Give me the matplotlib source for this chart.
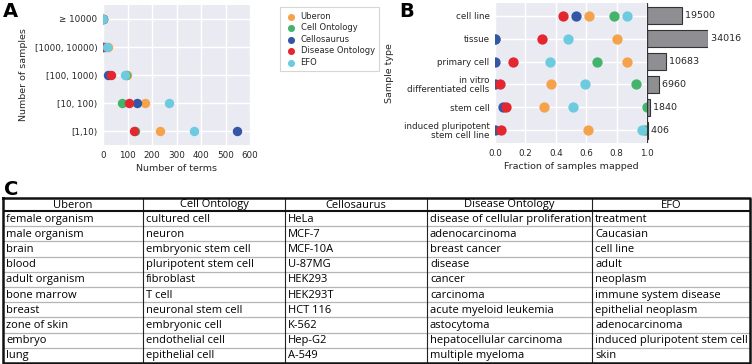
import matplotlib
matplotlib.use("Agg")
import matplotlib.pyplot as plt
import numpy as np

# ---- data ----
sources = ["Uberon", "Cell Ontology", "Cellosaurus", "Disease Ontology", "EFO"]
colors = ["#f5a34b", "#44b46c", "#3556a5", "#e4262e", "#6dcbdf"]

bins = ["\u2265 10000", "[1000, 10000)", "[100, 1000)", "[10, 100)", "[1,10)"]
# number of terms per bin, one list per source (same order as bins)
terms_uberon = [1, 22, 97, 172, 232]
terms_cl = [1, 10, 92, 78, 131]
terms_cellosaurus = [0, 0, 20, 140, 545]
terms_do = [0, 0, 31, 108, 128]
terms_efo = [2, 15, 88, 268, 372]
terms = [terms_uberon, terms_cl, terms_cellosaurus, terms_do, terms_efo]

sample_types = ["cell line", "tissue", "primary cell", "in vitro\ndifferentiated cells",
                "stem cell", "induced pluripotent\nstem cell line"]
frac_uberon = [0.62, 0.80, 0.87, 0.37, 0.32, 0.61]
frac_cl = [0.78, 0.00, 0.67, 0.93, 1.00, 0.99]
frac_cellosaurus = [0.53, 0.00, 0.00, 0.00, 0.05, 0.00]
frac_do = [0.45, 0.31, 0.12, 0.03, 0.07, 0.04]
frac_efo = [0.87, 0.48, 0.36, 0.59, 0.51, 0.97]
fracs = [frac_uberon, frac_cl, frac_cellosaurus, frac_do, frac_efo]
sample_counts = [19500, 34016, 10683, 6960, 1840, 406]

table_header = ["Uberon", "Cell Ontology", "Cellosaurus", "Disease Ontology", "EFO"]
col_uberon = ["female organism", "male organism", "brain", "blood", "adult organism",
              "bone marrow", "breast", "zone of skin", "embryo", "lung"]
col_cl = ["cultured cell", "neuron", "embryonic stem cell", "pluripotent stem cell", "fibroblast",
          "T cell", "neuronal stem cell", "embryonic cell", "endothelial cell", "epithelial cell"]
col_cellosaurus = ["HeLa", "MCF-7", "MCF-10A", "U-87MG", "HEK293",
                   "HEK293T", "HCT 116", "K-562", "Hep-G2", "A-549"]
col_do = ["disease of cellular proliferation", "adenocarcinoma", "breast cancer", "disease", "cancer",
          "carcinoma", "acute myeloid leukemia", "astocytoma", "hepatocellular carcinoma", "multiple myeloma"]
col_efo = ["treatment", "Caucasian", "cell line", "adult", "neoplasm",
           "immune system disease", "epithelial neoplasm", "adenocarcinoma",
           "induced pluripotent stem cell", "skin"]
table_cols = [col_uberon, col_cl, col_cellosaurus, col_do, col_efo]
col_widths = [140, 142, 142, 165, 158]

# ---- style ----
plt.rcParams['font.family'] = ['DejaVu Sans']
txt = "#262626"
bg = "#eaeaf2"
W, H = 752, 364


def fig_rect(x0, y0, x1, y1):
    return [x0 / W, 1 - y1 / H, (x1 - x0) / W, (y1 - y0) / H]


def seaborn_ax(ax, size):
    ax.set_facecolor(bg)
    for s in ax.spines.values():
        s.set_visible(False)
    ax.grid(True, color="white", lw=1.0)
    ax.set_axisbelow(True)
    ax.tick_params(length=0, labelsize=size, colors=txt, pad=4)


fig = plt.figure(figsize=(W / 100, H / 100), dpi=100)

# ---- panel A ----
axA = fig.add_axes(fig_rect(103, 5, 250, 145))
seaborn_ax(axA, 6.3)
ya = np.arange(len(bins))
for name, c, vals in zip(sources, colors, terms):
    axA.scatter(vals, ya, s=46, color=c, label=name, zorder=3, linewidths=0)
axA.set_xlim(0, 600)
axA.set_ylim(len(bins) - 0.5, -0.5)
axA.set_xticks(range(0, 601, 100))
axA.set_yticks(ya)
axA.set_yticklabels(bins)
axA.set_xlabel("Number of terms", fontsize=6.8, color=txt, labelpad=3)
axA.set_ylabel("Number of samples", fontsize=6.8, color=txt, labelpad=5)

handles, labels = axA.get_legend_handles_labels()
leg = fig.legend(handles, labels, loc="upper left", bbox_to_anchor=(276 / W, 1 - 3 / H),
                 fontsize=6, frameon=True, fancybox=False, edgecolor="#cccccc",
                 handletextpad=0.4, borderpad=0.55, labelspacing=0.3, markerscale=0.75,
                 handlelength=1.5)
leg.get_frame().set_linewidth(0.8)
for t in leg.get_texts():
    t.set_color(txt)

# ---- panel B ----
axB = fig.add_axes(fig_rect(495, 3, 647, 143))
seaborn_ax(axB, 6.3)
yb = np.arange(len(sample_types))
for name, c, vals in zip(sources, colors, fracs):
    axB.scatter(vals, yb, s=55, color=c, zorder=3, linewidths=0)
axB.set_xlim(0, 1)
axB.set_ylim(len(sample_types) - 0.45, -0.55)
axB.set_xticks(np.arange(0, 1.01, 0.2))
axB.set_xticklabels([f"{v:.1f}" for v in np.arange(0, 1.01, 0.2)])
axB.set_yticks(yb)
axB.set_yticklabels(sample_types, linespacing=0.95)
axB.set_xlabel("Fraction of samples mapped", fontsize=6.8, color=txt, labelpad=3)
axB.set_ylabel("Sample type", fontsize=6.8, color=txt, labelpad=7)

axBar = fig.add_axes(fig_rect(647, 3, 708, 143))
axBar.barh(yb, sample_counts, height=0.76, color="#8f8f93", edgecolor="#333333", lw=0.8)
axBar.set_xlim(0, max(sample_counts))
axBar.set_ylim(axB.get_ylim())
axBar.axis("off")
axBar.axvline(0, color="#333333", lw=1.6)
for y, v in zip(yb, sample_counts):
    axBar.text(v, y, f" {v}", va="center", ha="left", fontsize=6.8, color=txt, clip_on=False)

# ---- panel labels ----
for lab, x, y in [("A", 3, 2), ("B", 399, 2), ("C", 4, 180)]:
    fig.text(x / W, 1 - y / H, lab, fontsize=14, fontweight="bold", va="top", ha="left")

# ---- panel C table ----
axC = fig.add_axes(fig_rect(3, 198, 750, 363))
axC.axis("off")
total_w = sum(col_widths)
nrows = len(col_uberon)
header_h = 13.0
row_h = (165 - header_h) / nrows
axC.set_xlim(0, total_w)
axC.set_ylim(165, 0)
edges = np.concatenate([[0], np.cumsum(col_widths)])
for r in range(1, nrows):
    axC.axhline(header_h + r * row_h, color="#b5b5b5", lw=0.9)
for e in edges[1:-1]:
    axC.plot([e, e], [0, 165], color="#222222", lw=0.8)
axC.plot([0, total_w], [header_h, header_h], color="#111111", lw=1.5)
axC.plot([0, total_w, total_w, 0, 0], [0, 0, 165, 165, 0], color="#111111", lw=1.8, clip_on=False)
for i, head in enumerate(table_header):
    axC.text((edges[i] + edges[i + 1]) / 2, header_h / 2 + 0.5, head, ha="center", va="center",
             fontsize=8, family="Open Sans")
for i, col in enumerate(table_cols):
    for r, item in enumerate(col):
        axC.text(edges[i] + 3, header_h + (r + 0.5) * row_h + 0.5, item, ha="left", va="center",
                 fontsize=8, family="Open Sans")

fig.savefig("out.png", dpi=100)
